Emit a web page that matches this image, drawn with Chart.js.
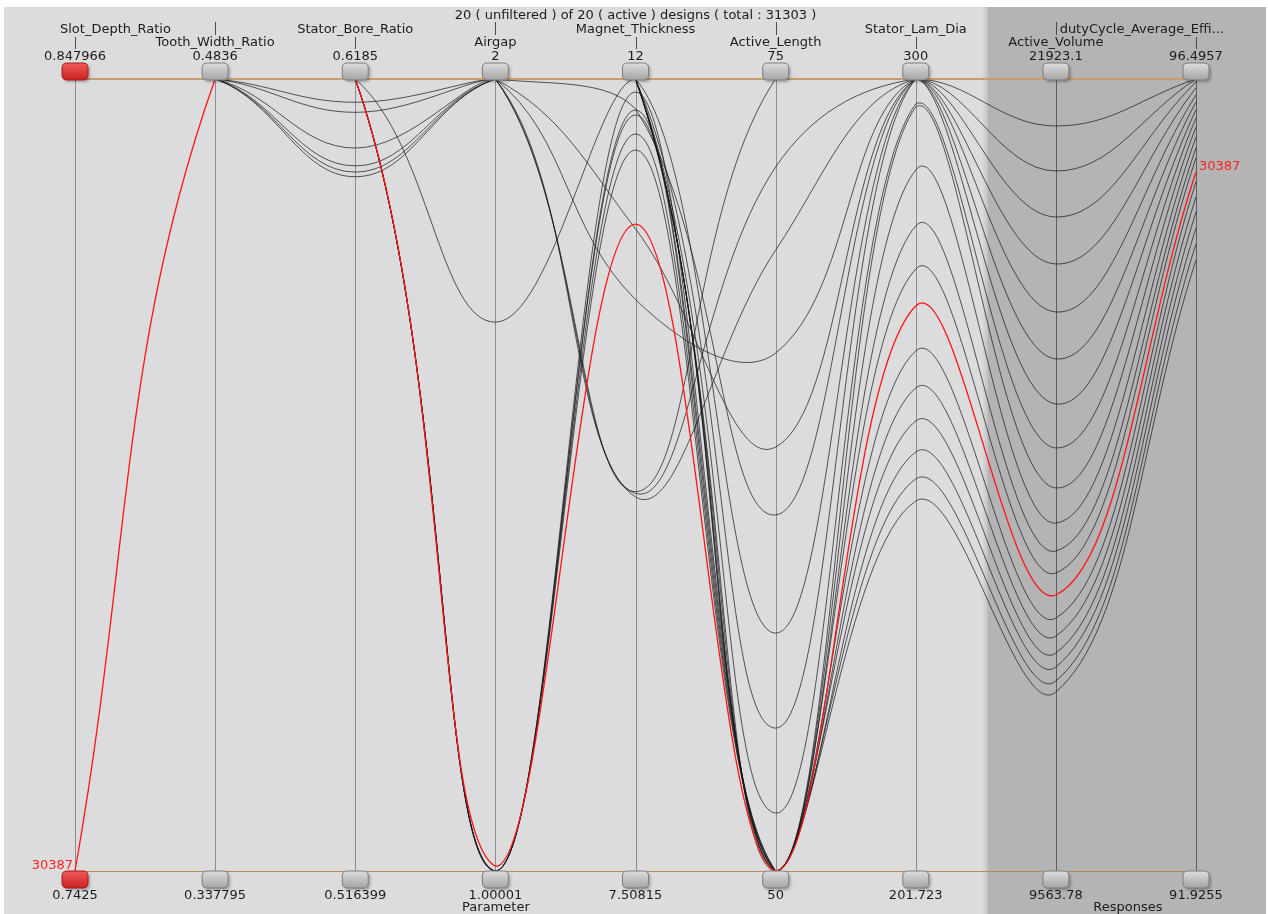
<!DOCTYPE html>
<html>
<head>
<meta charset="utf-8">
<title>Designs - parallel coordinates</title>
<script src="https://cdn.jsdelivr.net/npm/chart.js@4.4.1/dist/chart.umd.min.js"></script>
<style>
  html, body { margin: 0; padding: 0; background: #ffffff; }
  #wrap { width: 1268px; height: 914px; }
</style>
</head>
<body>
<div id="wrap"><canvas id="pcChart" width="1268" height="914"></canvas></div>
<script>
// Axes (parameters then responses)
const axisNames = ["Slot_Depth_Ratio", "Tooth_Width_Ratio", "Stator_Bore_Ratio", "Airgap",
  "Magnet_Thickness", "Active_Length", "Stator_Lam_Dia", "Active_Volume", "dutyCycle_Average_Effi..."];
const axisMax = [0.847966, 0.4836, 0.6185, 2, 12, 75, 300, 21923.1, 96.4957];
const axisMin = [0.7425, 0.337795, 0.516399, 1.00001, 7.50815, 50, 201.723, 9563.78, 91.9255];
const parameterCount = 7; // first 7 axes are parameters, last 2 responses

const titleText = "20 ( unfiltered ) of 20 ( active ) designs ( total : 31303 )";
const highlightId = "30387";
const highlightIndex = 13;

// One value per design (20 designs) for every axis
const slotDepth = [0.847966, 0.847966, 0.847966, 0.847966, 0.847966, 0.847966, 0.847966, 0.847966, 0.847966, 0.847966,
  0.847966, 0.847966, 0.847966, 0.7425, 0.847966, 0.847966, 0.847966, 0.847966, 0.847966, 0.847966];
const toothWidth = [0.4836, 0.4836, 0.4836, 0.4836, 0.4836, 0.4836, 0.4836, 0.4836, 0.4836, 0.4836,
  0.4836, 0.4836, 0.4836, 0.4836, 0.4836, 0.4836, 0.4836, 0.4836, 0.4836, 0.4836];
const statorBore = [0.6155, 0.6142, 0.6096, 0.6185, 0.6185, 0.6185, 0.6185, 0.6185, 0.6185, 0.6073,
  0.6185, 0.6185, 0.6065, 0.6185, 0.6185, 0.6185, 0.6059, 0.6185, 0.6185, 0.6185];
const airgap = [2, 2, 2, 2, 2, 2, 1.693, 2, 2, 2,
  1.00001, 1.00001, 2, 1.006, 1.00001, 1.00001, 2, 1.00001, 2, 2];
const magnetThickness = [9.66, 9.65, 9.63, 10.75, 11.15, 11.83, 12, 12, 12, 12,
  11.926, 11.824, 12, 11.177, 11.796, 11.688, 12, 11.597, 12, 12];
const activeLength = [75, 72.22, 69.6, 66.35, 63.38, 61.24, 57.51, 54.51, 51.83, 50,
  50, 50, 50, 50, 50, 50, 50, 50, 50, 50];
const statorLamDia = [300, 300, 300, 300, 300, 300, 300, 300, 296.89, 296.52,
  288.71, 281.76, 276.42, 271.83, 266.25, 261.66, 257.56, 253.71, 250.36, 247.63];
const activeVolume = [21923.1, 21190, 20487, 19770, 19036, 18287, 17554, 16851, 16165, 15541,
  14994, 14557, 14214, 13871, 13511, 13231, 12966, 12748, 12529, 12357];
const dutyEfficiency = [96.4957, 96.4957, 96.4957, 96.478, 96.444, 96.403, 96.363, 96.317, 96.271, 96.219,
  96.161, 96.098, 96.04, 95.959, 95.902, 95.815, 95.728, 95.636, 95.544, 95.451];

const columns = [slotDepth, toothWidth, statorBore, airgap, magnetThickness,
  activeLength, statorLamDia, activeVolume, dutyEfficiency];

const FONT = '13px "DejaVu Sans", Verdana, sans-serif';

// normalise each design onto 0..1 per axis
function buildDatasets() {
  return slotDepth.map((_, i) => {
    const isHi = i === highlightIndex;
    return {
      label: isHi ? highlightId : "design " + (i + 1),
      data: columns.map((col, k) => (col[i] - axisMin[k]) / (axisMax[k] - axisMin[k])),
      borderColor: isHi ? "#ff1414" : "rgba(25,25,25,0.8)",
      borderWidth: isHi ? 1.3 : 0.9,
      pointRadius: 0,
      tension: 0.4,
      clip: false,
      order: isHi ? 0 : 1
    };
  });
}

function roundRect(ctx, x, y, w, h, r) {
  ctx.beginPath();
  ctx.moveTo(x + r, y);
  ctx.lineTo(x + w - r, y);
  ctx.quadraticCurveTo(x + w, y, x + w, y + r);
  ctx.lineTo(x + w, y + h - r);
  ctx.quadraticCurveTo(x + w, y + h, x + w - r, y + h);
  ctx.lineTo(x + r, y + h);
  ctx.quadraticCurveTo(x, y + h, x, y + h - r);
  ctx.lineTo(x, y + r);
  ctx.quadraticCurveTo(x, y, x + r, y);
  ctx.closePath();
}

function drawHandle(ctx, cx, top, red) {
  const w = 26, h = 17;
  ctx.save();
  ctx.shadowColor = "rgba(0,0,0,0.28)";
  ctx.shadowOffsetX = 2;
  ctx.shadowOffsetY = 2;
  ctx.shadowBlur = 3;
  const g = ctx.createLinearGradient(0, top, 0, top + h);
  if (red) {
    g.addColorStop(0, "#f25a5a");
    g.addColorStop(1, "#cc2222");
  } else {
    g.addColorStop(0, "#dedede");
    g.addColorStop(1, "#a4a4a4");
  }
  roundRect(ctx, cx - w / 2, top, w, h, 5);
  ctx.fillStyle = g;
  ctx.fill();
  ctx.shadowColor = "transparent";
  ctx.strokeStyle = red ? "#a01c1c" : "#7c7c7c";
  ctx.lineWidth = 1;
  ctx.stroke();
  ctx.restore();
}

function splitX(chart) {
  const x = chart.scales.x;
  return (x.getPixelForValue(parameterCount - 1) + x.getPixelForValue(parameterCount)) / 2 + 2;
}

const decorPlugin = {
  id: "decor",
  beforeDraw(chart) {
    const { ctx, chartArea, scales } = chart;
    const W = chart.width, H = chart.height;
    const split = splitX(chart);
    ctx.save();
    ctx.fillStyle = "#ffffff";
    ctx.fillRect(0, 0, W, H);
    ctx.fillStyle = "#dcdcdc";
    ctx.fillRect(4, 7, W - 6, H - 7);
    // responses block with soft edge
    ctx.fillStyle = "#b4b4b4";
    ctx.fillRect(split, 7, W - 2 - split, H - 7);
    const g = ctx.createLinearGradient(split - 6, 0, split + 4, 0);
    g.addColorStop(0, "rgba(180,180,180,0)");
    g.addColorStop(1, "rgba(180,180,180,1)");
    ctx.fillStyle = g;
    ctx.fillRect(split - 6, 7, 10, H - 7);

    // axis lines
    axisNames.forEach((_, k) => {
      const x = Math.round(scales.x.getPixelForValue(k)) + 0.5;
      ctx.strokeStyle = k < parameterCount ? "#8e8e8e" : "#5e5e5e";
      ctx.lineWidth = 1;
      ctx.beginPath();
      ctx.moveTo(x, chartArea.top);
      ctx.lineTo(x, chartArea.bottom);
      ctx.stroke();
    });
    ctx.restore();
  },
  afterDatasetsDraw(chart) {
    const { ctx, chartArea, scales } = chart;
    const W = chart.width;
    const split = splitX(chart);
    ctx.save();

    // range lines drawn over the designs
    const yTop = scales.y.getPixelForValue(1);
    const yBot = scales.y.getPixelForValue(0);
    ctx.strokeStyle = "#c79d72";
    ctx.lineWidth = 2.2;
    ctx.beginPath();
    ctx.moveTo(chartArea.left, yTop);
    ctx.lineTo(chartArea.right, yTop);
    ctx.stroke();
    ctx.strokeStyle = "#b98a5c";
    ctx.lineWidth = 1;
    ctx.beginPath();
    ctx.moveTo(chartArea.left, Math.round(yBot) + 0.5);
    ctx.lineTo(chartArea.right, Math.round(yBot) + 0.5);
    ctx.stroke();

    ctx.font = FONT;
    ctx.fillStyle = "#1c1c1c";
    ctx.textBaseline = "middle";

    ctx.textAlign = "center";
    ctx.fillText(titleText, (chartArea.left + chartArea.right) / 2, 16);

    axisNames.forEach((name, k) => {
      const x = scales.x.getPixelForValue(k);
      const red = k === 0;
      drawHandle(ctx, x, chartArea.top - 16, red);
      drawHandle(ctx, x, chartArea.bottom, red);

      ctx.fillStyle = "#1c1c1c";
      ctx.textAlign = "center";
      ctx.fillText(String(axisMax[k]), x, 57);
      ctx.fillText(String(axisMin[k]), x, 896);

      // names alternate between two rows, with a small connector
      const rowY = k % 2 === 0 ? 30 : 43;
      const w = ctx.measureText(name).width;
      const cx = Math.min(Math.max(x, 60 + w / 2), 1224 - w / 2);
      ctx.fillText(name, cx, rowY);
      ctx.strokeStyle = "#4a4a4a";
      ctx.lineWidth = 1;
      ctx.beginPath();
      const px = Math.round(x) + 0.5;
      if (k % 2 === 0) {
        ctx.moveTo(px, 37);
        ctx.lineTo(px, 49);
      } else {
        ctx.moveTo(px, 22);
        ctx.lineTo(px, 35);
      }
      ctx.stroke();
    });

    // section labels
    ctx.fillStyle = "#1c1c1c";
    ctx.fillText("Parameter", (4 + split) / 2, 908);
    ctx.fillText("Responses", (split + W) / 2, 908);

    // highlighted design id at both ends
    const hi = chart.data.datasets[highlightIndex].data;
    const last = hi.length - 1;
    ctx.fillStyle = "#ff2020";
    ctx.textAlign = "right";
    ctx.fillText(highlightId, scales.x.getPixelForValue(0) - 2, scales.y.getPixelForValue(hi[0]) - 5);
    ctx.textAlign = "left";
    ctx.fillText(highlightId, scales.x.getPixelForValue(last) + 3, scales.y.getPixelForValue(hi[last]) - 5);
    ctx.restore();
  }
};

new Chart(document.getElementById("pcChart").getContext("2d"), {
  type: "line",
  data: { labels: axisNames, datasets: buildDatasets() },
  options: {
    responsive: false,
    animation: false,
    events: [],
    layout: { padding: { left: 75, right: 72, top: 79, bottom: 43 } },
    plugins: { legend: { display: false }, tooltip: { enabled: false } },
    scales: {
      x: { type: "category", display: false, offset: false },
      y: { type: "linear", display: false, min: 0, max: 1 }
    }
  },
  plugins: [decorPlugin]
});
</script>
</body>
</html>
